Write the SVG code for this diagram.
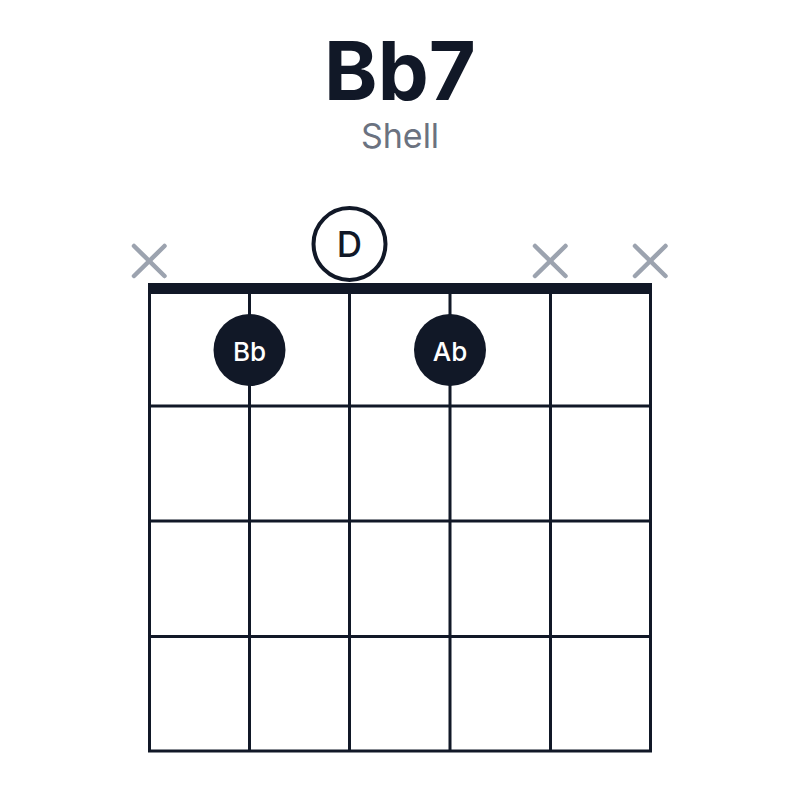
<svg xmlns="http://www.w3.org/2000/svg" width="800" height="800" viewBox="0 0 800 800">
<style>
.grid line{stroke:#111827;stroke-width:3}
.nut{fill:#111827}
.x line{stroke:#9ca3af;stroke-width:4.5;stroke-linecap:round}
.dot{fill:#111827}
.dlabel{fill:#ffffff;font-family:Inter,"Liberation Sans",sans-serif;font-weight:500;font-size:26px;text-anchor:middle}
.open{fill:#ffffff;stroke:#111827;stroke-width:4}
.olabel{fill:#111827;font-family:Inter,"Liberation Sans",sans-serif;font-weight:500;font-size:35px;text-anchor:middle}
</style>
<rect width="800" height="800" fill="#ffffff"/>
<text x="400" y="100" text-anchor="middle" font-family="Inter, Liberation Sans, sans-serif" font-weight="bold" font-size="81" fill="#111827">Bb7</text>
<text x="400" y="148" text-anchor="middle" font-family="Inter, Liberation Sans, sans-serif" font-size="34" fill="#6b7280">Shell</text>
<g id="grid" class="grid">
<line x1="149.5" y1="288" x2="149.5" y2="752"/>
<line x1="249.5" y1="288" x2="249.5" y2="752"/>
<line x1="349.5" y1="288" x2="349.5" y2="752"/>
<line x1="450" y1="288" x2="450" y2="752"/>
<line x1="550.5" y1="288" x2="550.5" y2="752"/>
<line x1="650.5" y1="288" x2="650.5" y2="752"/>
<line x1="148" y1="406" x2="652" y2="406"/>
<line x1="148" y1="521" x2="652" y2="521"/>
<line x1="148" y1="636.5" x2="652" y2="636.5"/>
<line x1="148" y1="751" x2="652" y2="751"/>
</g>
<rect id="nut" class="nut" x="148" y="283" width="504" height="11"/>
<g id="mute-1" class="x"><line x1="134" y1="246" x2="164.5" y2="276"/><line x1="164.5" y1="246" x2="134" y2="276"/></g>
<g id="mute-5" class="x"><line x1="535" y1="246" x2="565.5" y2="276"/><line x1="565.5" y1="246" x2="535" y2="276"/></g>
<g id="mute-6" class="x"><line x1="635" y1="246" x2="665.5" y2="276"/><line x1="665.5" y1="246" x2="635" y2="276"/></g>
<g id="open-D"><circle class="open" cx="349.5" cy="244" r="36"/><text class="olabel" x="349.5" y="256.5">D</text></g>
<g id="dot-Bb"><circle class="dot" cx="249.5" cy="350" r="36"/><text class="dlabel" x="249.5" y="360.5">Bb</text></g>
<g id="dot-Ab"><circle class="dot" cx="450" cy="350" r="36"/><text class="dlabel" x="450" y="360.5">Ab</text></g>
</svg>
